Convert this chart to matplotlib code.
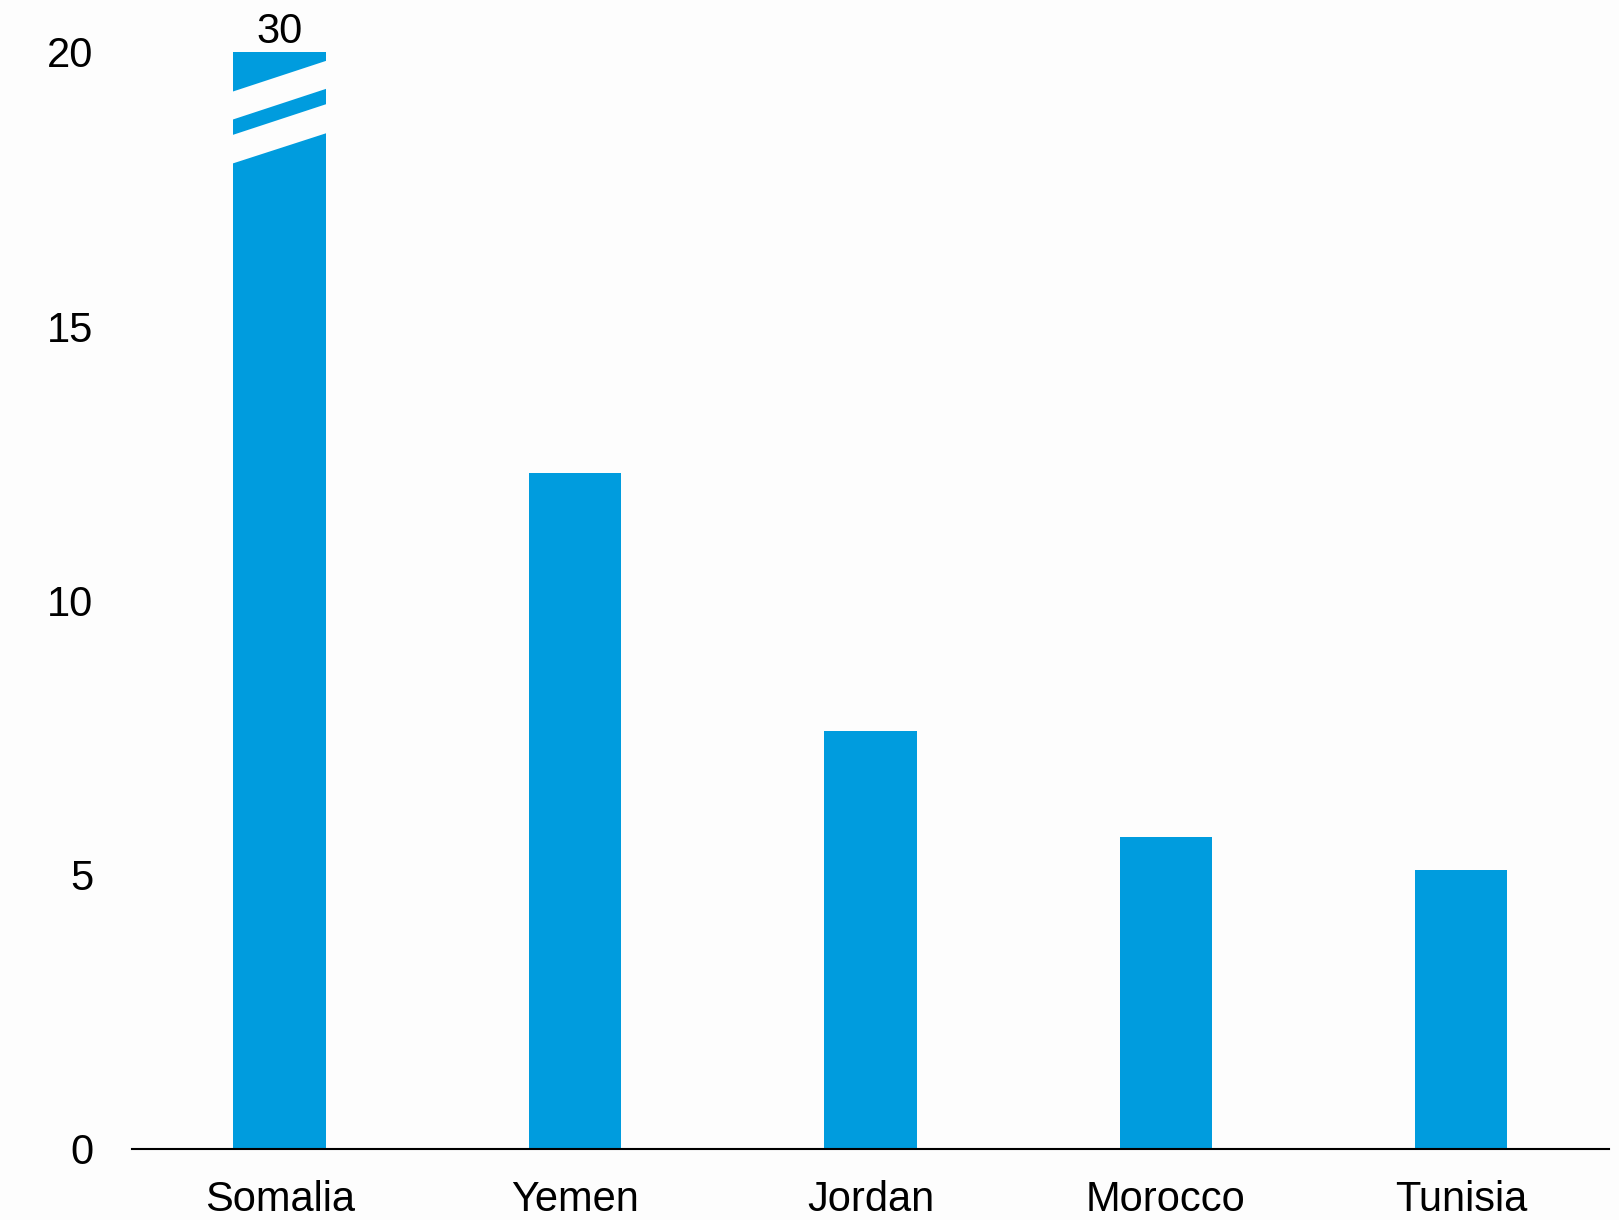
import matplotlib
matplotlib.use("Agg")
import matplotlib.pyplot as plt

countries = ["Somalia", "Yemen", "Jordan", "Morocco", "Tunisia"]
values = [30, 12.33, 7.61, 5.69, 5.08]
cap = 20
yticks = [0, 5, 10, 15, 20]

bar_color = "#009cde"
bg = "#fdfdfd"

plt.rcParams["font.family"] = ["Liberation Sans", "DejaVu Sans"]
fs = 30

fig = plt.figure(figsize=(16.19, 12.2), dpi=100, facecolor=bg)
ax = fig.add_axes([0.0815, 0.0582, 0.9938 - 0.0815, 0.9576 - 0.0582], facecolor=bg)

x = list(range(len(countries)))
shown = [min(v, cap) for v in values]
width = 0.313
ax.bar(x, shown, width=width, color=bar_color, zorder=2)

# break marks on capped bars
for xi, v in zip(x, values):
    if v > cap:
        xl = xi - width / 2 - 0.01
        xr = xi + width / 2 + 0.01
        for lo_l, hi_l, lo_r, hi_r in [(18.75, 19.26, 19.34, 19.85), (17.95, 18.47, 18.53, 19.06)]:
            ax.fill([xl, xr, xr, xl], [lo_l, lo_r, hi_r, hi_l], color=bg, zorder=3, lw=0)
        ax.text(xi, cap + 0.16, f"{v:g}", ha="center", va="baseline", fontsize=fs, clip_on=False, zorder=4)

ax.set_xlim(-0.5, len(countries) - 0.5)
ax.set_ylim(0, cap)
ax.set_xticks(x)
ax.set_xticklabels(countries, fontsize=fs)
ax.set_yticks(yticks)
ax.set_yticklabels([str(t) for t in yticks], fontsize=fs)
ax.tick_params(axis="both", length=0)
ax.tick_params(axis="y", pad=28)
ax.tick_params(axis="x", pad=22)
for s in ["left", "right", "top"]:
    ax.spines[s].set_visible(False)
ax.spines["bottom"].set_linewidth(1.5)
ax.spines["bottom"].set_color("black")
ax.spines["bottom"].set_zorder(5)

fig.savefig("out.png", dpi=100, facecolor=bg)
